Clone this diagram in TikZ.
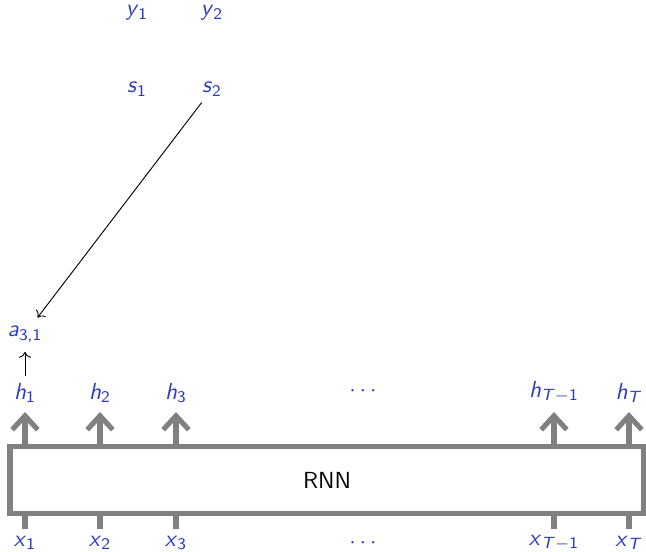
\documentclass[tikz,border=0pt]{standalone}
\usetikzlibrary{arrows.meta}
\definecolor{bblue}{RGB}{45,60,190}
\definecolor{bgray}{RGB}{128,128,128}
\newcommand{\vv}[2]{\textit{#1}\textsubscript{#2}}
\begin{document}
\begin{tikzpicture}[x=0.43pt,y=-0.43pt, font=\sffamily,
  lbl/.style={text=bblue, inner sep=1pt},
  rnnbox/.style={draw=bgray, line width=2.2pt, minimum width=272.6pt, minimum height=29pt, inner sep=0pt},
  harrow/.style={draw=bgray, line width=2.2pt, -{Straight Barb[length=6pt,width=11pt]}},
  stub/.style={draw=bgray, line width=2.2pt},
  conn/.style={->, black, line width=0.4pt}]
\useasboundingbox (0,0) rectangle (646,552);
% top labels
\node[lbl] (y1) at (137,13) {\vv{y}{1}};
\node[lbl] (y2) at (212,13) {\vv{y}{2}};
\node[lbl] (s1) at (137,89) {\vv{s}{1}};
\node[lbl] (s2) at (212,89) {\vv{s}{2}};
\node[lbl] (a31) at (25,334) {\vv{a}{3,1}};
% RNN box
\node[rnnbox] (rnn) at (327,480) {RNN};
% hidden labels
\node[lbl] (h1) at (25,393) {\vv{h}{1}};
\node[lbl] (h2) at (100,393) {\vv{h}{2}};
\node[lbl] (h3) at (176,393) {\vv{h}{3}};
\node[lbl] (hd) at (363,391) {$\cdots$};
\node[lbl] (hT1) at (554,392) {\vv{h}{\textit{T}$-$1}};
\node[lbl] (hT) at (629,393) {\vv{h}{\textit{T}}};
% input labels
\node[lbl] (x1) at (25,543) {\vv{x}{1}};
\node[lbl] (x2) at (100,543) {\vv{x}{2}};
\node[lbl] (x3) at (176,543) {\vv{x}{3}};
\node[lbl] (xd) at (363,543) {$\cdots$};
\node[lbl] (xT1) at (554,543) {\vv{x}{\textit{T}$-$1}};
\node[lbl] (xT) at (629,543) {\vv{x}{\textit{T}}};
% arrow tips and stub ends
\foreach \n/\xx in {1/25,2/100,3/176,T1/554,T/629}{
  \coordinate (ht\n) at (\xx,412);
  \coordinate (xs\n) at (\xx,529);
  \draw[harrow] (rnn.north -| ht\n) -- (ht\n);
  \draw[stub] (rnn.south -| xs\n) -- (xs\n);
}
% attention connectors
\draw[conn, shorten <=1.7pt, shorten >=3pt] (h1.north) -- (a31.south);
\draw[conn, shorten <=2pt, shorten >=3pt] (s2) -- (a31);
\end{tikzpicture}
\end{document}
